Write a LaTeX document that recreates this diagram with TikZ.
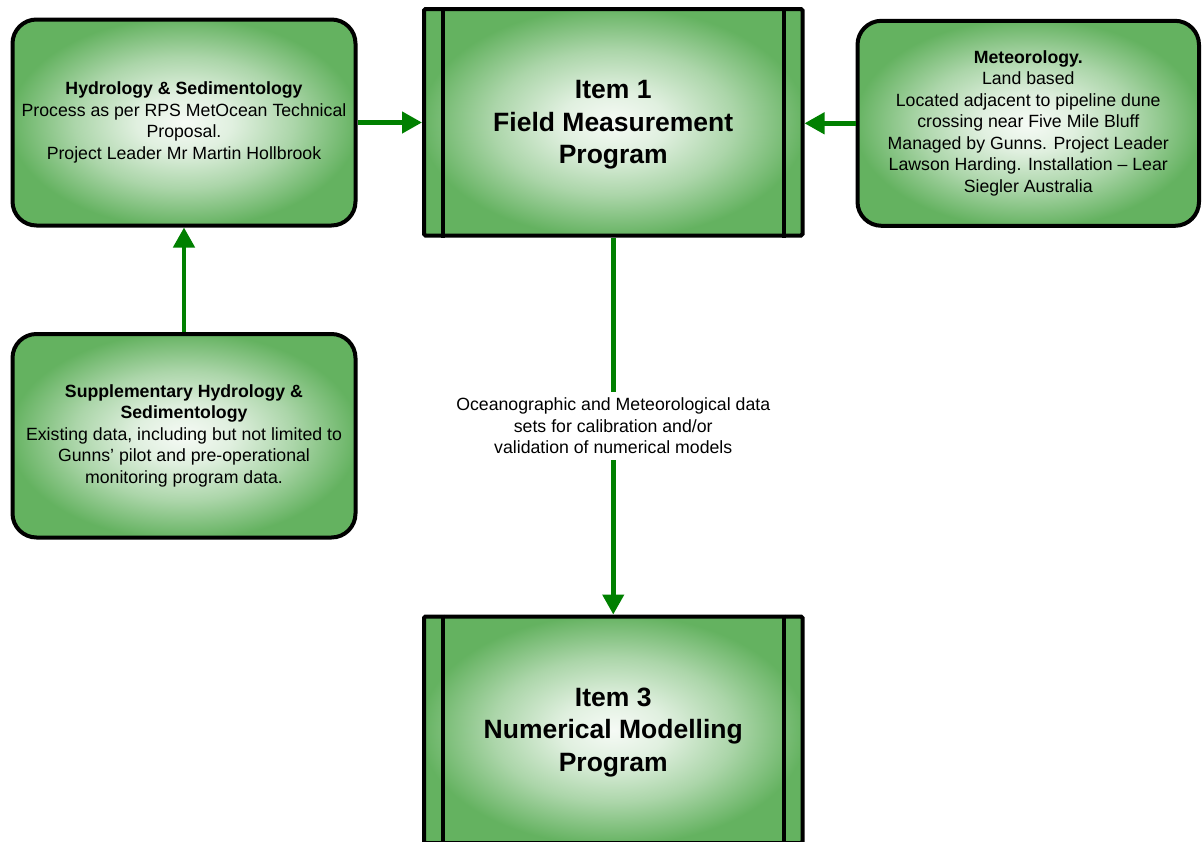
\documentclass[tikz,border=0pt]{standalone}
\usepackage{fontspec}
\setmainfont{Liberation Sans}
\usetikzlibrary{arrows.meta}
\definecolor{boxgreen}{RGB}{100,178,96}
\definecolor{arrowgreen}{RGB}{0,128,0}
% soft white glow in the middle of every box, fading to green at the rim
% (the box outline maps onto the inner 50bp square of the shading)
\pgfdeclareradialshading{boxglow}{\pgfpoint{0bp}{0bp}}{%
  color(0bp)=(white!94!boxgreen); color(7bp)=(white!80!boxgreen);
  color(16bp)=(white!46!boxgreen); color(25.5bp)=(boxgreen); color(50bp)=(boxgreen)}
% taller first line so the program titles sit a little lower
\newcommand{\titlestrut}{\rule{0pt}{24pt}}

\begin{document}
\begin{tikzpicture}[x=1pt,y=-1pt,
  every node/.style={font=\fontsize{17.7}{21.5}\selectfont},
  infobox/.style={draw=black, line width=4pt, rounded corners=24pt,
    shading=boxglow, align=center, inner sep=0pt},
  itembox/.style={draw=black, line width=4pt, rounded corners=1.5pt,
    shading=boxglow, align=center, inner sep=0pt,
    font=\fontsize{26.5}{32.5}\selectfont\bfseries},
  sidebar/.style={draw=black, line width=4pt},
  flow/.style={draw=arrowgreen, line width=4.5pt,
    -{Triangle[length=20pt,width=21pt]}},
  flowlabel/.style={fill=white, inner xsep=3pt, inner ysep=6pt, align=center}]

\useasboundingbox (0,0) rectangle (1202,841);
\clip (0,0) rectangle (1202,841);

% boxes
\node[infobox, minimum width=343pt, minimum height=206pt] (hyd) at (184,122.5)
  {\textbf{Hydrology \& Sedimentology}\\
   Process as per RPS MetOcean Technical\\
   Proposal.\\
   Project Leader Mr Martin Hollbrook};

\node[itembox, minimum width=378.5pt, minimum height=226.5pt] (item1) at (613.25,122.25)
  {\titlestrut Item 1\\Field Measurement\\Program};

\node[infobox, minimum width=341.5pt, minimum height=205pt] (met) at (1028.25,123.3)
  {\textbf{Meteorology.}\\
   Land based\\
   Located adjacent to pipeline dune\\
   crossing near Five Mile Bluff\\
   Managed by Gunns. Project Leader\\
   Lawson Harding. Installation – Lear\\
   Siegler Australia};

\node[infobox, minimum width=343pt, minimum height=203.5pt] (supp) at (184,435.75)
  {\textbf{Supplementary Hydrology \&}\\
   \textbf{Sedimentology}\\
   Existing data, including but not limited to\\
   Gunns’ pilot and pre-operational\\
   monitoring program data.};

\node[itembox, minimum width=378.5pt, minimum height=226.5pt] (item3) at (613.25,729.75)
  {\titlestrut Item 3\\Numerical Modelling\\Program};

% side bars of the program boxes
\foreach \n in {item1,item3}{
  \draw[sidebar] ([xshift=21pt]\n.north west) -- ([xshift=21pt]\n.south west);
  \draw[sidebar] ([xshift=-21pt]\n.north east) -- ([xshift=-21pt]\n.south east);
}

% connectors
\draw[flow] (hyd.east) -- (item1.west |- hyd.east);
\draw[flow] (met.west) -- (item1.east |- met.west);
\draw[flow] (supp.north) -- (hyd.south);
\draw[flow] (item1.south) --
  node[flowlabel] (datalabel) {Oceanographic and Meteorological data\\
    sets for calibration and/or\\
    validation of numerical models}
  (item3.north);

\end{tikzpicture}
\end{document}
